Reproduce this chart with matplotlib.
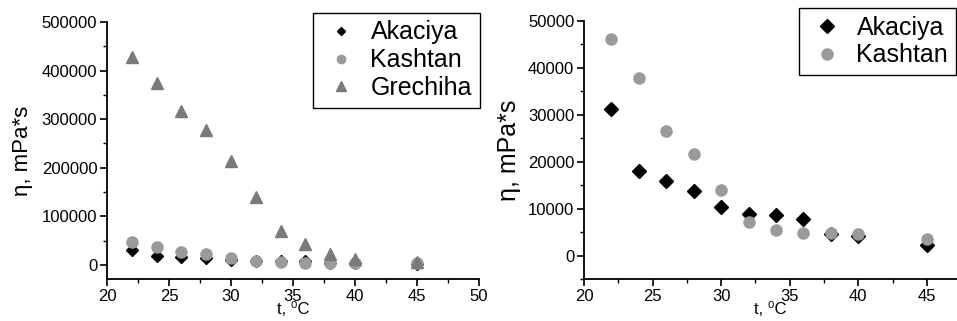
import matplotlib
matplotlib.use("Agg")
import matplotlib.pyplot as plt
from matplotlib.ticker import MultipleLocator

plt.rcParams["font.family"] = ["Liberation Sans", "DejaVu Sans"]

# temperatures, deg C
t = [22, 24, 26, 28, 30, 32, 34, 36, 38, 40, 45]

# viscosity, mPa*s
akaciya = [31200, 18100, 15800, 13700, 10400, 8950, 8600, 7750, 4550, 4100, 2350]
kashtan = [46200, 37900, 26500, 21650, 14050, 7100, 5400, 4900, 4800, 4600, 3600]
grechiha = [428000, 375000, 317000, 278000, 213000, 139000, 70500, 42500, 22000, 11700, 6000]

fig = plt.figure(figsize=(9.57, 3.21), dpi=100)
ax1 = fig.add_axes([0.1118, 0.1308, 0.3887, 0.8006])
ax2 = fig.add_axes([0.6102, 0.1308, 0.3898, 0.8037])

c_ak, c_ka, c_gr = "black", "#9a9a9a", "#7a7a7a"

ax1.plot(t, akaciya, "D", color=c_ak, ms=6, label="Akaciya")
ax1.plot(t, kashtan, "o", color=c_ka, ms=8, label="Kashtan")
ax1.plot(t, grechiha, "^", color=c_gr, ms=9, label="Grechiha")
ax1.set_xlim(20, 50)
ax1.set_ylim(-29000, 500000)
ax1.yaxis.set_major_locator(MultipleLocator(100000))
ax1.yaxis.set_minor_locator(MultipleLocator(50000))

ax2.plot(t, akaciya, "D", color=c_ak, ms=7.5, label="Akaciya")
ax2.plot(t, kashtan, "o", color=c_ka, ms=8, label="Kashtan")
ax2.set_xlim(20, 47.2)
ax2.set_ylim(-5000, 50000)
ax2.yaxis.set_major_locator(MultipleLocator(10000))
ax2.yaxis.set_minor_locator(MultipleLocator(5000))

for ax in (ax1, ax2):
    ax.spines["top"].set_visible(False)
    ax.spines["right"].set_visible(False)
    ax.spines["left"].set_linewidth(1.3)
    ax.spines["bottom"].set_linewidth(1.3)
    ax.xaxis.set_major_locator(MultipleLocator(5))
    ax.xaxis.set_minor_locator(MultipleLocator(2.5))
    ax.tick_params(which="major", direction="out", length=5, width=1.2, labelsize=12, pad=2)
    ax.tick_params(which="minor", direction="out", length=3, width=1.0)
    ax.set_xlabel("t, \u2070C", fontsize=12, labelpad=-1)

ax1.set_ylabel("η, mPa*s", fontsize=16, labelpad=6)
ax2.set_ylabel("η, mPa*s", fontsize=18, labelpad=5)

leg_kw = dict(frameon=True, fancybox=False, edgecolor="black", framealpha=1,
              handletextpad=0.4, borderpad=0.3, borderaxespad=0, labelspacing=0.15,
              handlelength=1.6, fontsize=18)
l1 = ax1.legend(loc="upper left", bbox_to_anchor=(313 / 957, 1 - 13 / 321),
                bbox_transform=fig.transFigure, markerscale=0.75, **leg_kw)
l2 = ax2.legend(loc="upper left", bbox_to_anchor=(799 / 957, 1 - 8 / 321),
                bbox_transform=fig.transFigure, markerscale=1.0, **leg_kw)
for lg in (l1, l2):
    lg.get_frame().set_linewidth(1.0)
    lg.set_zorder(5)

fig.savefig("out.png", dpi=100)
